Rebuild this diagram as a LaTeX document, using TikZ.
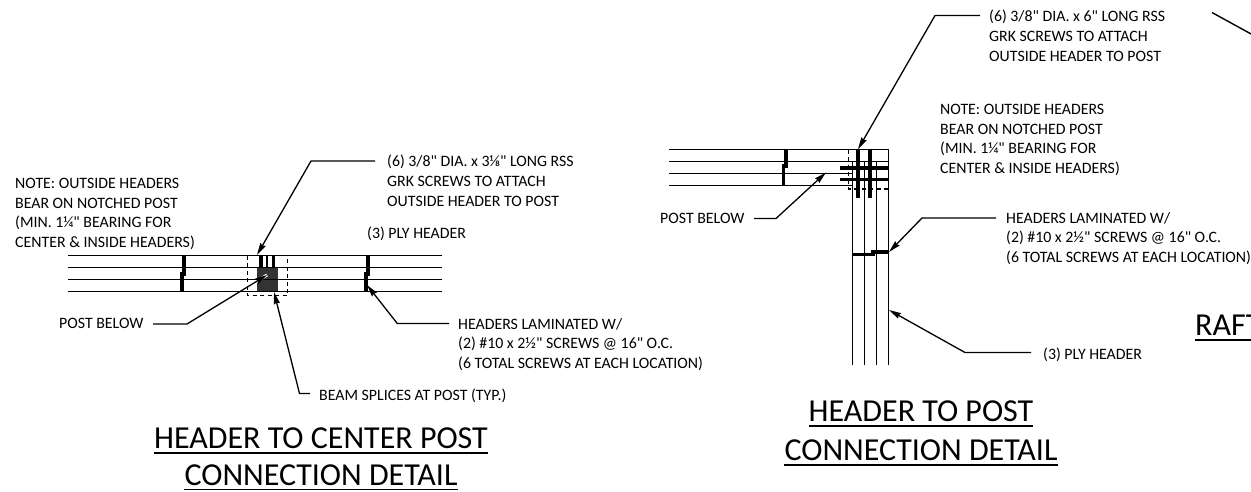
\documentclass[tikz,border=0pt]{standalone}
\usepackage{fontspec}
\setmainfont{Carlito}[Ligatures=TeXOff]
\usetikzlibrary{arrows.meta,calc}
\tikzset{
  thinln/.style={line width=1.4pt,black},
  thickln/.style={line width=3.3pt,black},
  cutln/.style={line width=1.2pt,black,dash pattern=on 4pt off 3.5pt},
  leader/.style={line width=1.3pt,black,-{Stealth[length=12pt,width=6pt,inset=1pt]}},
  lbl/.style={anchor=north west,inner sep=0pt,align=left,font=\fontsize{15.85}{19.7}\selectfont},
  ttl/.style={anchor=base,inner sep=0pt,font=\fontsize{32}{36}\selectfont},
  ulin/.style={line width=1.6pt,black}
}
\begin{document}
\begin{tikzpicture}[x=1pt,y=-1pt]
\useasboundingbox (0,0) rectangle (1251,491);
\clip (0,0) rectangle (1251,491);
\fill[white] (0,0) rectangle (1251,491);
% ---- left detail
\fill[black!80] (257,267.5) rectangle (278,291.5);
\foreach \yy in {255.5,267.5,279.5,291.5}
  \draw[thinln] (68,\yy) -- (442,\yy);
\draw[thickln] (184,255.5) -- (184,274) -- (182,274) -- (182,291.5);
\draw[thickln] (368,255.5) -- (368,274) -- (366,274) -- (366,291.5);
\draw[thickln] (261,255.5) -- (261,267.5);
\draw[thickln] (273.5,255.5) -- (273.5,267.5);
\draw[thinln] (267,255.5) -- (267,267.5);
\draw[cutln] (247.5,255.5) -- (247.5,295.5) -- (287.5,295.5) -- (287.5,255.5);
% labels
\node[lbl] (noteL) at (15,178) {NOTE: OUTSIDE HEADERS\\BEAR ON NOTCHED POST\\(MIN. 1¼" BEARING FOR\\CENTER \& INSIDE HEADERS)};
\node[lbl] (screwL) at (387,155) {(6) 3/8" DIA. x 3⅛" LONG RSS\\GRK SCREWS TO ATTACH\\OUTSIDE HEADER TO POST};
\node[lbl] (plyL) at (367,227) {(3) PLY HEADER};
\node[lbl] (postL) at (59,318) {POST BELOW};
\node[lbl] (lamL) at (458,318) {HEADERS LAMINATED W/\\(2) \#10 x 2½" SCREWS @ 16" O.C.\\(6 TOTAL SCREWS AT EACH LOCATION)};
\node[lbl] (spliceL) at (319,389) {BEAM SPLICES AT POST (TYP.)};
% leaders
\coordinate (a1) at (257,255); \coordinate (a1e) at (311,161); \coordinate (a1s) at (375,161);
\draw[leader] (a1s) -- (a1e) -- (a1);
\coordinate (a2) at (267,275); \coordinate (a2e) at (187,324); \coordinate (a2s) at (153,324);
\draw[line width=3pt,white] ($(a2)!0.0!(a2e)$) -- ($(a2)!0.14!(a2e)$);
\draw[leader] (a2s) -- (a2e) -- (a2);
\coordinate (a3) at (274,292); \coordinate (a3e) at (299.5,393.5); \coordinate (a3s) at (310,393.5);
\draw[leader] (a3s) -- (a3e) -- (a3);
\coordinate (a4) at (367,285); \coordinate (a4e) at (397.3,323.5); \coordinate (a4s) at (449,323.5);
\draw[leader] (a4s) -- (a4e) -- (a4);
% titles
\node[ttl] (t1) at (321,448) {HEADER TO CENTER POST};
\draw[ulin] ([yshift=-5pt]t1.base west) -- ([yshift=-5pt]t1.base east);
\node[ttl] (t2) at (321,485) {CONNECTION DETAIL};
\draw[ulin] ([yshift=-4.5pt]t2.base west) -- ([yshift=-4.5pt]t2.base east);
% ---- right detail
\foreach \yy in {149.5,161.5}
  \draw[thinln] (669,\yy) -- (889,\yy);
\foreach \yy in {173.5,185.5}
  \draw[thinln] (669,\yy) -- (853,\yy);
\draw[thinln] (852.5,161.5) -- (852.5,365);
\draw[thinln] (864.5,161.5) -- (864.5,365);
\draw[thinln] (876.5,161.5) -- (876.5,365);
\draw[thinln] (888.5,149.5) -- (888.5,365);
\draw[thickln] (786,149.5) -- (786,166) -- (783.5,166) -- (783.5,185.5);
\draw[thickln] (858,149.5) -- (858,198);
\draw[thickln] (870,149.5) -- (870,198);
\draw[thickln] (840,168) -- (889,168);
\draw[thickln] (840,179.5) -- (889,179.5);
\draw[cutln] (848.5,149.5) -- (848.5,189) -- (889,189);
\draw[thickln] (853,254.5) -- (873,254.5) -- (873,252) -- (888.5,252);
% labels
\node[lbl] (screwR) at (989,10) {(6) 3/8" DIA. x 6" LONG RSS\\GRK SCREWS TO ATTACH\\OUTSIDE HEADER TO POST};
\node[lbl] (noteR) at (940,104) {NOTE: OUTSIDE HEADERS\\BEAR ON NOTCHED POST\\(MIN. 1¼" BEARING FOR\\CENTER \& INSIDE HEADERS)};
\node[lbl] (postR) at (660,213) {POST BELOW};
\node[lbl] (lamR) at (1006,212) {HEADERS LAMINATED W/\\(2) \#10 x 2½" SCREWS @ 16" O.C.\\(6 TOTAL SCREWS AT EACH LOCATION)};
\node[lbl] (plyR) at (1043,348) {(3) PLY HEADER};
% leaders
\coordinate (b1) at (858,149.3); \coordinate (b1e) at (935,15.5); \coordinate (b1s) at (980,15.5);
\draw[leader] (b1s) -- (b1e) -- (b1);
\coordinate (b2) at (826,172.5); \coordinate (b2e) at (776,218.5); \coordinate (b2s) at (754,218.5);
\draw[leader] (b2s) -- (b2e) -- (b2);
\coordinate (b3) at (889,252); \coordinate (b3e) at (922,218); \coordinate (b3s) at (996,218);
\draw[leader] (b3s) -- (b3e) -- (b3);
\coordinate (b4) at (889,310); \coordinate (b4e) at (965,352.5); \coordinate (b4s) at (1031,352.5);
\draw[leader] (b4s) -- (b4e) -- (b4);
% titles
\node[ttl] (t3) at (921,421) {HEADER TO POST};
\draw[ulin] ([yshift=-5pt]t3.base west) -- ([yshift=-5pt]t3.base east);
\node[ttl] (t4) at (921,460) {CONNECTION DETAIL};
\draw[ulin] ([yshift=-5pt]t4.base west) -- ([yshift=-5pt]t4.base east);
% ---- clipped neighbour
\coordinate (c1) at (1212,12.5); \coordinate (c2) at (1262,40);
\draw[thinln] (c1) -- (c2);
\node[ttl,anchor=base west] (t5) at (1195,335) {RAFT};
\draw[ulin] ([yshift=-5pt]t5.base west) -- ([yshift=-5pt,xshift=10pt]t5.base east);
\end{tikzpicture}
\end{document}
